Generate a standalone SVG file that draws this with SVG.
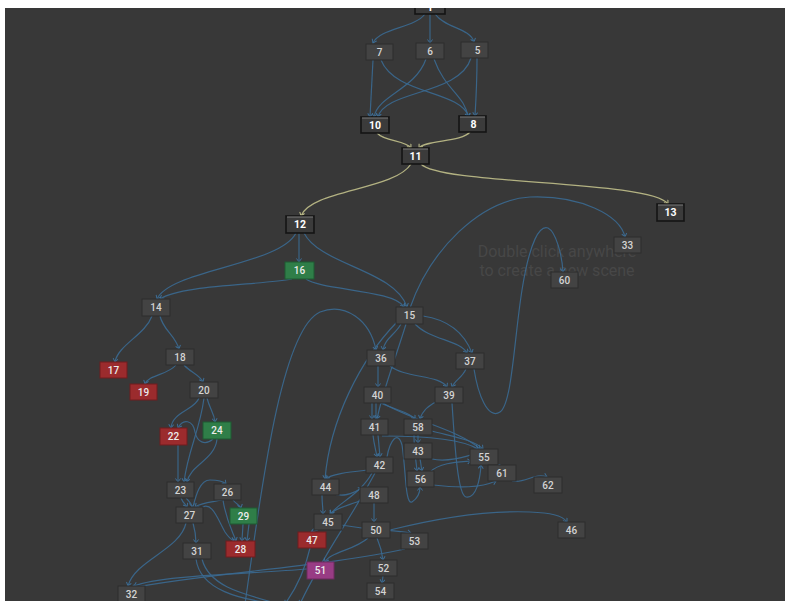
<svg xmlns="http://www.w3.org/2000/svg" width="785" height="601" viewBox="0 0 785 601">
<defs>
<style>
.e{fill:none;stroke:#3b6a91;stroke-width:1.2;opacity:.9;marker-end:url(#ab)}
.y{fill:none;stroke:#b3b282;stroke-width:1.3;marker-end:url(#ay)}
.n rect{fill:#434343;stroke:#2c2c2c;stroke-width:1}
.n text{font-family:Roboto,"Liberation Sans",sans-serif;font-size:10px;font-weight:500;fill:#d4d4d4;text-anchor:middle}
.m rect{fill:#3b3b3b;stroke:#141414;stroke-width:1.6}
.m text{font-family:Roboto,"Liberation Sans",sans-serif;font-size:10.5px;font-weight:700;fill:#fff;text-anchor:middle}
.m line{stroke:#7a7a7a;stroke-width:1}
.r rect{fill:#9b2b2d;stroke:#6e1d1f}
.g rect{fill:#2f7e48;stroke:#1f5a32}
.p rect{fill:#983c84;stroke:#6c2a5e}
.r text,.g text,.p text{fill:#ececec}
.wm{font-family:Roboto,"Liberation Sans",sans-serif;font-size:16px;fill:#474747;text-anchor:middle}
</style>
<marker id="ab" markerUnits="userSpaceOnUse" markerWidth="8" markerHeight="8" refX="4" refY="3" orient="auto"><path d="M0.5,0.5 L4,3 L0.5,5.5" fill="none" stroke="#3f74a0" stroke-width="1"/></marker>
<marker id="ay" markerUnits="userSpaceOnUse" markerWidth="8" markerHeight="8" refX="4" refY="3" orient="auto"><path d="M0.5,0.5 L4,3 L0.5,5.5" fill="none" stroke="#c4c38e" stroke-width="1"/></marker>
<clipPath id="cl"><rect x="5" y="8" width="780" height="593"/></clipPath>
</defs>
<rect width="785" height="601" fill="#ffffff"/>
<g clip-path="url(#cl)">
<rect x="5" y="8" width="780" height="593" fill="#383838"/>
<text class="wm" x="557" y="257">Double click anywhere</text>
<text class="wm" x="557" y="276">to create a new scene</text>
<g id="connectors">
<path class="e" d="M425,14 C415,28 380,28 373,43"/>
<path class="e" d="M430,14 L430,43"/>
<path class="e" d="M435,14 C445,28 470,28 474,42"/>
<path class="e" d="M373,60 C372,80 371,100 370,117"/>
<path class="e" d="M381,60 C395,95 460,90 469,117"/>
<path class="e" d="M426,59 C415,90 378,95 374,117"/>
<path class="e" d="M434,59 C445,90 465,95 468,117"/>
<path class="e" d="M471,58 C460,95 385,90 378,117"/>
<path class="e" d="M477,58 C477,80 476,100 475,116"/>
<path class="y" d="M377,133 C385,142 405,140 411,148"/>
<path class="y" d="M470,132 C462,142 425,140 419,148"/>
<path class="y" d="M411,164 C395,190 310,190 301,216"/>
<path class="y" d="M421,164 C440,185 650,180 668,204"/>
<path class="e" d="M296,233 C280,265 170,270 157,299"/>
<path class="e" d="M299,233 L299,262"/>
<path class="e" d="M304,233 C320,265 395,270 407,307"/>
<path class="e" d="M292,279 C260,285 180,285 160,299"/>
<path class="e" d="M306,279 C320,290 395,290 404,307"/>
<path class="e" d="M410,308 C430,250 480,200 530,197 C580,195 620,215 625,237"/>
<path class="e" d="M152,316 C145,335 118,345 115,362"/>
<path class="e" d="M160,316 C163,330 175,335 179,349"/>
<path class="e" d="M176,365 C168,375 148,375 145,384"/>
<path class="e" d="M184,365 C190,372 200,375 203,382"/>
<path class="e" d="M199,398 C195,410 172,412 171,428"/>
<path class="e" d="M207,398 C210,410 214,412 215,422"/>
<path class="e" d="M204,398 C200,430 188,450 184,482"/>
<path class="e" d="M213,439 C205,446 197,442 195,432 C193,420 183,418 178,428"/>
<path class="e" d="M178,445 C178,460 178,470 178,482"/>
<path class="e" d="M217,439 C215,460 190,465 187,482"/>
<path class="e" d="M181,498 C183,503 186,505 187,507"/>
<path class="e" d="M186,498 C190,502 192,505 192,507"/>
<path class="e" d="M222,500 C212,502 200,503 195,507"/>
<path class="e" d="M233,500 C236,504 240,505 241,508"/>
<path class="e" d="M223,500 C226,520 232,530 236,541"/>
<path class="e" d="M243,524 L242,541"/>
<path class="e" d="M249,524 L247,541"/>
<path class="e" d="M193,507 C196,495 200,480 210,480 C220,480 224,482 226,484"/>
<path class="e" d="M201,508 C212,500 218,520 225,532 C229,538 232,540 234,541"/>
<path class="e" d="M193,523 C195,530 196,538 196,543"/>
<path class="e" d="M186,523 C180,550 135,560 128,586"/>
<path class="e" d="M196,559 C200,590 240,600 280,604"/>
<path class="e" d="M202,559 C210,590 250,595 300,610"/>
<path class="e" d="M307,569 C250,574 160,575 134,586"/>
<path class="e" d="M405,549 C330,566 200,574 131,588"/>
<path class="e" d="M401,324 C395,335 385,338 383,350"/>
<path class="e" d="M415,324 C430,340 460,340 467,353"/>
<path class="e" d="M423,316 C450,320 465,335 472,353"/>
<path class="e" d="M406,324 C395,360 383,390 377,419"/>
<path class="e" d="M397,322 C360,360 330,420 325,479"/>
<path class="e" d="M378,366 L378,387"/>
<path class="e" d="M390,366 C405,378 440,375 447,387"/>
<path class="e" d="M466,369 C462,378 455,380 452,387"/>
<path class="e" d="M474,369 C478,395 488,420 500,412 C512,404 514,340 522,290 C530,240 540,225 548,228 C556,232 562,255 563,272"/>
<path class="e" d="M440,400 C428,405 422,412 420,419"/>
<path class="e" d="M452,403 C455,450 458,495 466,497 C476,499 480,480 481,465"/>
<path class="e" d="M372,403 L372,419"/>
<path class="e" d="M376,403 L376,419"/>
<path class="e" d="M381,403 C395,410 410,412 415,419"/>
<path class="e" d="M383,403 C410,420 460,430 480,449"/>
<path class="e" d="M373,435 C374,445 376,450 377,457"/>
<path class="e" d="M378,435 L380,457"/>
<path class="e" d="M382,436 C420,436 460,438 478,449"/>
<path class="e" d="M418,435 L418,443"/>
<path class="e" d="M414,435 C414,450 416,460 417,471"/>
<path class="e" d="M432,431 C450,436 475,440 483,449"/>
<path class="e" d="M420,459 C421,463 421,467 422,471"/>
<path class="e" d="M432,459 C445,462 465,458 478,452"/>
<path class="e" d="M430,472 C440,462 460,462 471,461"/>
<path class="e" d="M387,457 C390,440 398,430 402,445 C406,470 405,505 412,502 C418,498 420,492 420,487"/>
<path class="e" d="M492,465 C496,465 498,466 500,465"/>
<path class="e" d="M433,485 C460,488 480,488 496,481"/>
<path class="e" d="M512,481 C525,484 535,472 547,477"/>
<path class="e" d="M368,470 C350,472 330,474 326,479"/>
<path class="e" d="M372,473 C360,495 335,505 331,514"/>
<path class="e" d="M375,473 C350,520 320,560 300,604"/>
<path class="e" d="M322,495 C322,503 323,508 323,514"/>
<path class="e" d="M332,493 C342,498 352,494 362,488"/>
<path class="e" d="M362,500 C350,505 335,508 330,514"/>
<path class="e" d="M374,503 L374,522"/>
<path class="e" d="M318,530 L311,532"/>
<path class="e" d="M341,525 C370,530 395,530 411,533"/>
<path class="e" d="M390,530 C430,520 480,510 530,512 C550,513 562,515 567,522"/>
<path class="e" d="M377,538 C380,545 382,552 383,560"/>
<path class="e" d="M368,538 C355,550 330,552 325,562"/>
<path class="e" d="M383,576 L382,583"/>
<path class="e" d="M310,548 C305,570 295,590 285,604"/>
<path class="e" d="M245,604 C260,500 280,330 320,312 C345,302 370,320 376,350"/>
</g>
<g id="n1" class="n m"><rect x="415" y="-2" width="30" height="16"/><text x="430" y="11">1</text></g>
<g id="n7" class="n"><rect x="366" y="44" width="27" height="16"/><text x="379.5" y="55.5">7</text></g>
<g id="n6" class="n"><rect x="416" y="43" width="28" height="16"/><text x="430" y="54.5">6</text></g>
<g id="n5" class="n"><rect x="461" y="42" width="27" height="16"/><text x="477.5" y="53.5">5</text></g>
<g id="n10" class="n m"><rect x="361" y="117" width="28" height="16"/><line x1="362" y1="118" x2="388" y2="118"/><text x="375" y="128.5">10</text></g>
<g id="n8" class="n m"><rect x="459" y="116" width="27" height="16"/><line x1="460" y1="117" x2="485" y2="117"/><text x="473.5" y="127.5">8</text></g>
<g id="n11" class="n m"><rect x="402" y="148" width="27" height="16"/><line x1="403" y1="149" x2="428" y2="149"/><text x="415.5" y="159.5">11</text></g>
<g id="n12" class="n m"><rect x="286" y="216" width="28" height="17"/><line x1="287" y1="217" x2="313" y2="217"/><text x="300" y="228">12</text></g>
<g id="n13" class="n m"><rect x="657" y="204" width="27" height="17"/><line x1="658" y1="205" x2="683" y2="205"/><text x="670.5" y="216">13</text></g>
<g id="n16" class="n g"><rect x="285" y="262" width="29" height="17"/><text x="299.5" y="274">16</text></g>
<g id="n14" class="n"><rect x="142" y="299" width="28" height="17"/><text x="156" y="311">14</text></g>
<g id="n15" class="n"><rect x="396" y="307" width="27" height="17"/><text x="409.5" y="319">15</text></g>
<g id="n33" class="n"><rect x="614" y="237" width="27" height="16"/><text x="627.5" y="248.5">33</text></g>
<g id="n60" class="n"><rect x="551" y="272" width="27" height="16"/><text x="564.5" y="283.5">60</text></g>
<g id="n36" class="n"><rect x="367" y="350" width="28" height="16"/><text x="381" y="361.5">36</text></g>
<g id="n37" class="n"><rect x="456" y="353" width="28" height="16"/><text x="470" y="364.5">37</text></g>
<g id="n18" class="n"><rect x="166" y="349" width="28" height="16"/><text x="180" y="360.5">18</text></g>
<g id="n17" class="n r"><rect x="100" y="362" width="27" height="16"/><text x="113.5" y="373.5">17</text></g>
<g id="n19" class="n r"><rect x="130" y="384" width="27" height="16"/><text x="143.5" y="395.5">19</text></g>
<g id="n20" class="n"><rect x="190" y="382" width="28" height="16"/><text x="204" y="393.5">20</text></g>
<g id="n40" class="n"><rect x="364" y="387" width="27" height="16"/><text x="377.5" y="398.5">40</text></g>
<g id="n39" class="n"><rect x="435" y="387" width="28" height="16"/><text x="449" y="398.5">39</text></g>
<g id="n22" class="n r"><rect x="160" y="428" width="27" height="17"/><text x="173.5" y="440">22</text></g>
<g id="n24" class="n g"><rect x="203" y="422" width="28" height="17"/><text x="217" y="434">24</text></g>
<g id="n41" class="n"><rect x="361" y="419" width="27" height="16"/><text x="374.5" y="430.5">41</text></g>
<g id="n58" class="n"><rect x="404" y="419" width="28" height="16"/><text x="418" y="430.5">58</text></g>
<g id="n43" class="n"><rect x="404" y="443" width="28" height="16"/><text x="418" y="454.5">43</text></g>
<g id="n55" class="n"><rect x="470" y="449" width="28" height="16"/><text x="484" y="460.5">55</text></g>
<g id="n42" class="n"><rect x="366" y="457" width="27" height="16"/><text x="379.5" y="468.5">42</text></g>
<g id="n61" class="n"><rect x="488" y="465" width="28" height="16"/><text x="502" y="476.5">61</text></g>
<g id="n56" class="n"><rect x="407" y="471" width="27" height="16"/><text x="420.5" y="482.5">56</text></g>
<g id="n62" class="n"><rect x="534" y="477" width="28" height="16"/><text x="548" y="488.5">62</text></g>
<g id="n23" class="n"><rect x="167" y="482" width="27" height="16"/><text x="180.5" y="493.5">23</text></g>
<g id="n26" class="n"><rect x="214" y="484" width="27" height="16"/><text x="227.5" y="495.5">26</text></g>
<g id="n44" class="n"><rect x="312" y="479" width="27" height="16"/><text x="325.5" y="490.5">44</text></g>
<g id="n48" class="n"><rect x="360" y="487" width="28" height="16"/><text x="374" y="498.5">48</text></g>
<g id="n27" class="n"><rect x="176" y="507" width="27" height="16"/><text x="189.5" y="518.5">27</text></g>
<g id="n29" class="n g"><rect x="230" y="508" width="27" height="16"/><text x="243.5" y="519.5">29</text></g>
<g id="n45" class="n"><rect x="314" y="514" width="28" height="16"/><text x="328" y="525.5">45</text></g>
<g id="n50" class="n"><rect x="362" y="522" width="28" height="16"/><text x="376" y="533.5">50</text></g>
<g id="n46" class="n"><rect x="558" y="522" width="27" height="16"/><text x="571.5" y="533.5">46</text></g>
<g id="n53" class="n"><rect x="401" y="533" width="27" height="16"/><text x="414.5" y="544.5">53</text></g>
<g id="n47" class="n r"><rect x="298" y="532" width="28" height="16"/><text x="312" y="543.5">47</text></g>
<g id="n31" class="n"><rect x="183" y="543" width="28" height="16"/><text x="197" y="554.5">31</text></g>
<g id="n28" class="n r"><rect x="226" y="541" width="29" height="16"/><text x="240.5" y="552.5">28</text></g>
<g id="n51" class="n p"><rect x="307" y="562" width="27" height="17"/><text x="320.5" y="574">51</text></g>
<g id="n52" class="n"><rect x="370" y="560" width="27" height="16"/><text x="383.5" y="571.5">52</text></g>
<g id="n32" class="n"><rect x="118" y="586" width="27" height="16"/><text x="131.5" y="597.5">32</text></g>
<g id="n54" class="n"><rect x="367" y="583" width="27" height="16"/><text x="380.5" y="594.5">54</text></g>
</g>
</svg>
